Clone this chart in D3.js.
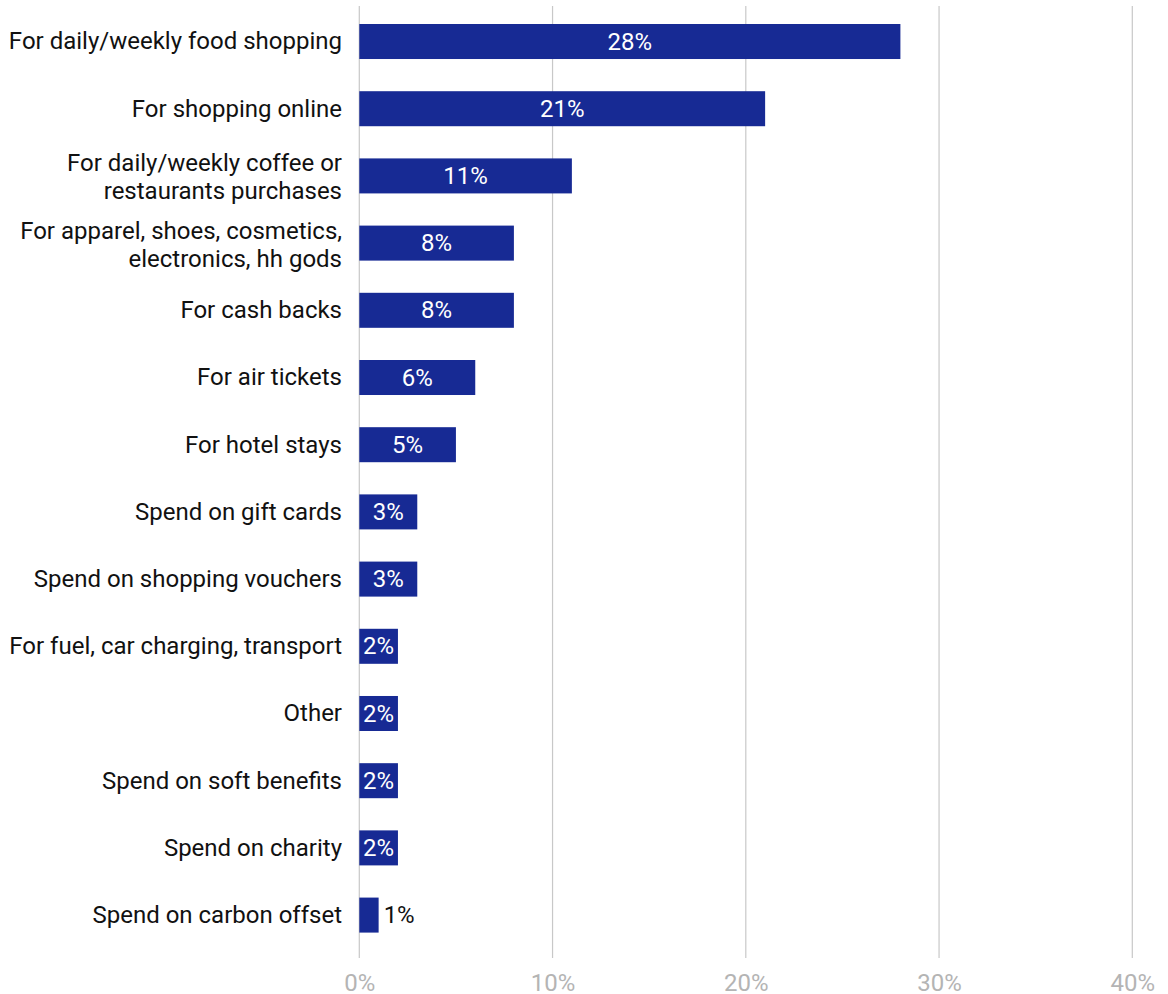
<!DOCTYPE html>
<html>
<head>
<meta charset="utf-8">
<script src="https://cdn.jsdelivr.net/npm/d3@7"></script>
<style>
  html, body { margin: 0; padding: 0; background: #fff; }
  svg { display: block; font-family: Roboto, "Noto Sans", sans-serif; }
</style>
</head>
<body>
<svg id="chart" width="1168" height="994"></svg>
<script>
// Where card rewards get spent, share of respondents
const categories = [
  "For daily/weekly food shopping",
  "For shopping online",
  "For daily/weekly coffee or restaurants purchases",
  "For apparel, shoes, cosmetics, electronics, hh gods",
  "For cash backs",
  "For air tickets",
  "For hotel stays",
  "Spend on gift cards",
  "Spend on shopping vouchers",
  "For fuel, car charging, transport",
  "Other",
  "Spend on soft benefits",
  "Spend on charity",
  "Spend on carbon offset"
];
const values = [28, 21, 11, 8, 8, 6, 5, 3, 3, 2, 2, 2, 2, 1];
const xTicks = [0, 10, 20, 30, 40];

const svg = d3.select("#chart");
const x0 = 359.3, x1 = 1132.3;
const gridTop = 6, gridBottom = 958;
const fontSize = 24;

const x = d3.scaleLinear().domain([0, 40]).range([x0, x1]);
const y = d3.scaleBand()
  .domain(categories)
  .range([6, 950.6])
  .paddingInner(0.479)
  .paddingOuter(0.268);

// vertical gridlines
svg.append("g")
  .selectAll("line")
  .data(xTicks)
  .join("line")
  .attr("x1", d => x(d)).attr("x2", d => x(d))
  .attr("y1", gridTop).attr("y2", gridBottom)
  .attr("stroke", "#c8c8c8")
  .attr("stroke-width", 1.2);

// x axis tick labels
const xAxis = d3.axisBottom(x).tickValues(xTicks).tickFormat(d => d + "%").tickSize(0).tickPadding(0);
const gx = svg.append("g").attr("transform", `translate(0,${gridBottom})`).call(xAxis);
gx.select(".domain").remove();
gx.selectAll("text")
  .attr("dy", null)
  .attr("y", 33)
  .attr("font-size", fontSize)
  .attr("font-family", "Roboto, sans-serif")
  .attr("fill", "#b4b4b4");

// bars
svg.append("g")
  .selectAll("rect")
  .data(categories)
  .join("rect")
  .attr("x", x(0))
  .attr("y", d => y(d))
  .attr("width", (d, i) => x(values[i]) - x(0))
  .attr("height", y.bandwidth())
  .attr("fill", "#172a94");

// value labels: inside the bar when they fit, otherwise just past its end
const vl = svg.append("g").attr("font-size", fontSize);
categories.forEach((c, i) => {
  const w = x(values[i]) - x(0);
  const t = vl.append("text")
    .attr("y", y(c) + y.bandwidth() / 2)
    .attr("dy", "0.34em")
    .text(values[i] + "%");
  const tw = t.node().getComputedTextLength();
  if (tw + 4 <= w) {
    t.attr("x", x(0) + w / 2).attr("text-anchor", "middle").attr("fill", "#fff");
  } else {
    t.attr("x", x(values[i]) + 5).attr("text-anchor", "start").attr("fill", "#111");
  }
});

// category labels, wrapped to the space left of the axis
const labelRight = 342, maxW = 340, lineH = 28;
const cl = svg.append("g").attr("font-size", fontSize).attr("fill", "#111").attr("text-anchor", "end");
categories.forEach(c => {
  const probe = cl.append("text");
  const words = c.split(" ");
  const lines = [];
  let cur = "";
  words.forEach(wd => {
    const test = cur ? cur + " " + wd : wd;
    probe.text(test);
    if (probe.node().getComputedTextLength() > maxW && cur) {
      lines.push(cur);
      cur = wd;
    } else {
      cur = test;
    }
  });
  lines.push(cur);
  probe.remove();
  const cy = y(c) + y.bandwidth() / 2;
  const t = cl.append("text").attr("x", labelRight);
  lines.forEach((ln, k) => {
    t.append("tspan")
      .attr("x", labelRight)
      .attr("y", cy + (k - (lines.length - 1) / 2) * lineH + (lines.length > 1 ? 1.5 : 0))
      .attr("dy", "0.33em")
      .text(ln);
  });
});
</script>
</body>
</html>
